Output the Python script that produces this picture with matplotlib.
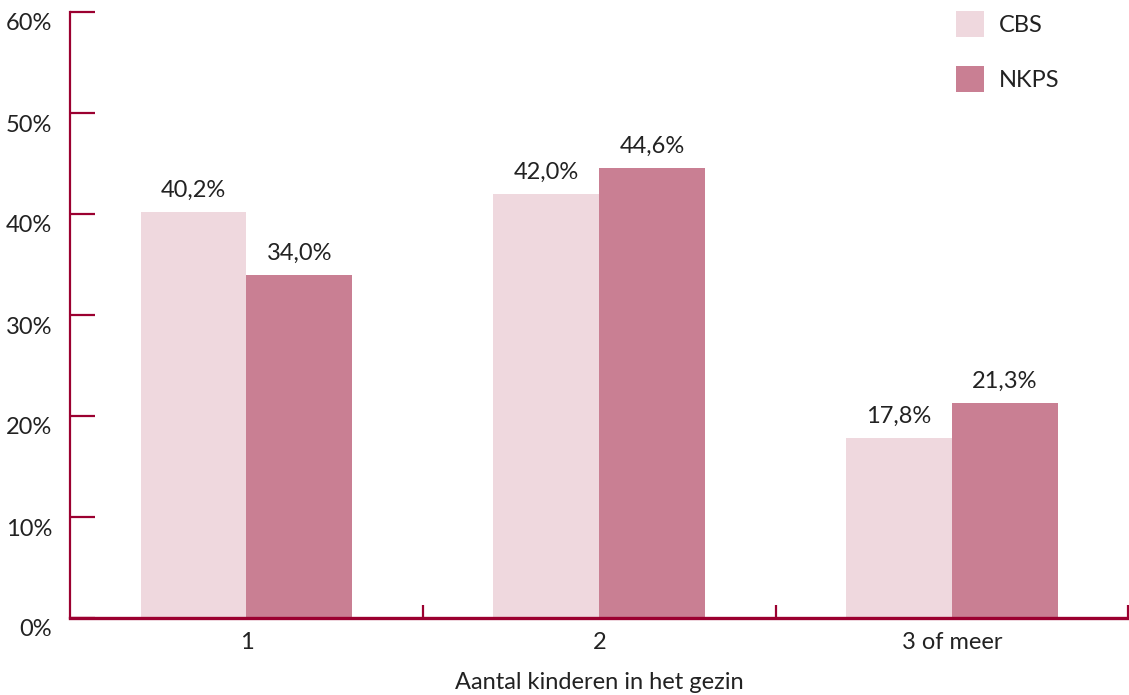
import matplotlib
matplotlib.use("Agg")
import matplotlib.pyplot as plt
from matplotlib.transforms import ScaledTranslation
import numpy as np

categories = ["1", "2", "3 of meer"]
cbs = [40.2, 42.0, 17.8]
nkps = [34.0, 44.6, 21.3]
series_names = ["CBS", "NKPS"]
yticks = [0, 10, 20, 30, 40, 50, 60]

plt.rcParams['font.family'] = ['Lato', 'DejaVu Sans']
c_cbs = "#EFD8DE"
c_nkps = "#C97F93"
c_axis = "#9B0030"
c_text = "#222222"
fs = 17

fig = plt.figure(figsize=(11.29, 6.95), dpi=100)
ax = fig.add_axes([70/1129, 77/695, 1 - 70/1129 - 0.0005, (618-12)/695])

x = np.arange(len(categories))
w = 0.3
b1 = ax.bar(x - w/2, cbs, w, color=c_cbs, label=series_names[0], zorder=1)
b2 = ax.bar(x + w/2, nkps, w, color=c_nkps, label=series_names[1], zorder=1)

for bars, vals in ((b1, cbs), (b2, nkps)):
    for r, v in zip(bars, vals):
        ax.annotate(f"{v:.1f}%".replace(".", ","), (r.get_x() + r.get_width()/2, v),
                    xytext=(0, 11), textcoords="offset pixels", ha="center", va="bottom",
                    fontsize=fs, color=c_text)

ax.set_xlim(-0.5, 2.5)
ax.set_ylim(0, 60)
ax.set_yticks(yticks)
ax.set_yticklabels([f"{t}%" for t in yticks])
ax.set_xticks(x)
ax.set_xticklabels(categories)
ax.set_xticks([0.5, 1.5, 2.5], minor=True)

for s in ("top", "right"):
    ax.spines[s].set_visible(False)
ax.spines["left"].set_color(c_axis)
ax.spines["left"].set_linewidth(1.6)
ax.spines["bottom"].set_color(c_axis)
ax.spines["bottom"].set_linewidth(2.4)
ax.spines["left"].set_zorder(3)
ax.spines["bottom"].set_zorder(3)

ax.tick_params(axis="y", direction="in", length=18, width=1.6, color=c_axis,
               labelsize=fs, labelcolor=c_text, pad=13)
ax.tick_params(axis="x", which="major", length=0, labelsize=fs, labelcolor=c_text, pad=10)
ax.tick_params(axis="x", which="minor", direction="in", length=9.5, width=1.6, color=c_axis)

off = ScaledTranslation(0, -0.10, fig.dpi_scale_trans)
for lab in ax.get_yticklabels():
    lab.set_transform(lab.get_transform() + off)

ax.set_xlabel("Aantal kinderen in het gezin", fontsize=fs, color=c_text, labelpad=14)

leg = ax.legend(loc="upper left", bbox_to_anchor=(886/1059, 1.002), frameon=False,
                fontsize=fs, handlelength=1.2, handleheight=1.3, labelspacing=1.25,
                handletextpad=0.65, borderaxespad=0, borderpad=0)
for t in leg.get_texts():
    t.set_color(c_text)

fig.savefig("out.png", dpi=100)
